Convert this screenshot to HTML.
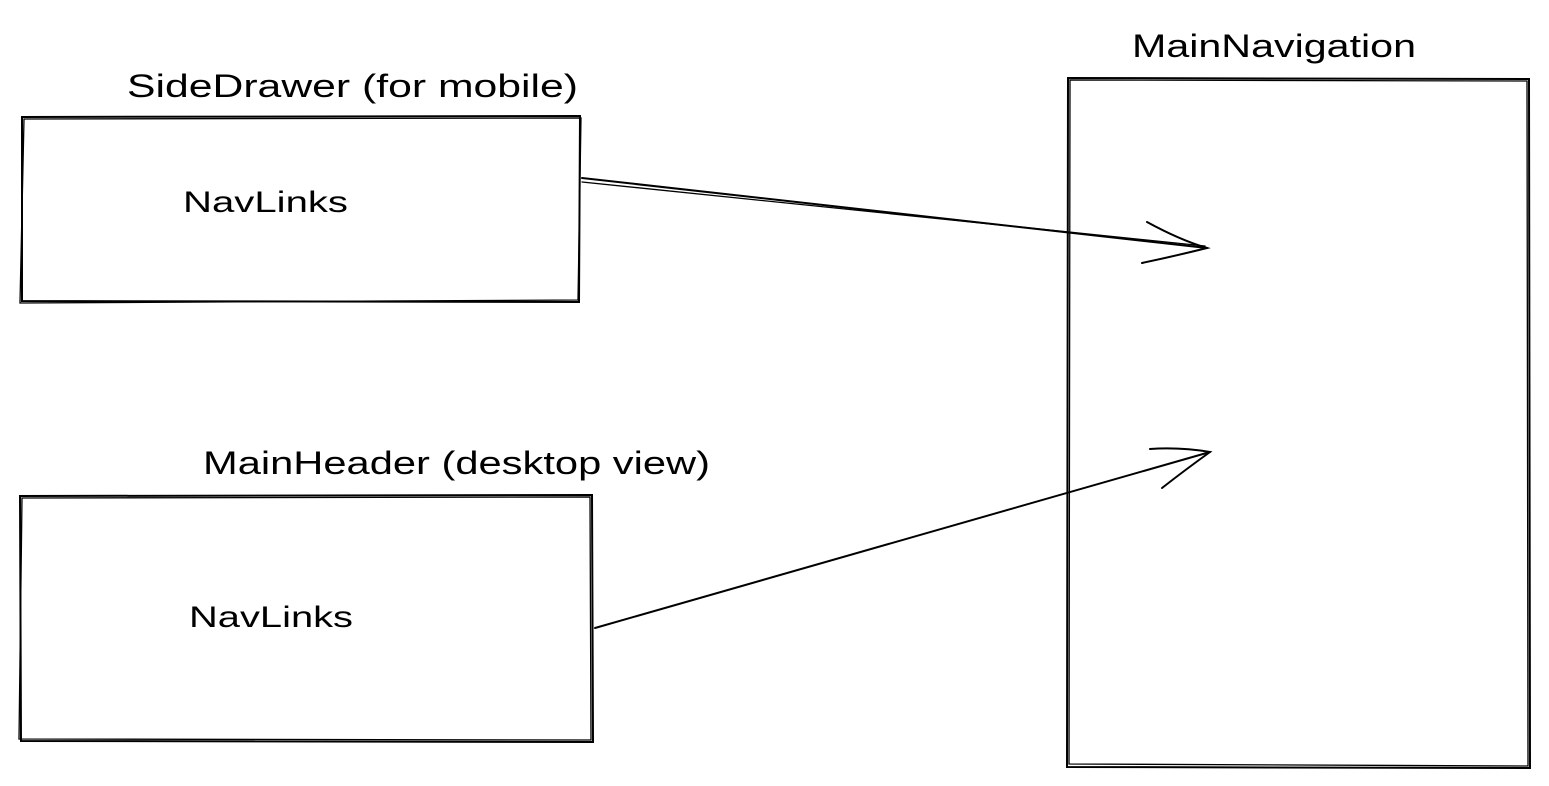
<!DOCTYPE html>
<html><head><meta charset="utf-8"><style>
html,body{margin:0;padding:0;background:#fff;}
svg{display:block}
text{font-family:"Liberation Sans",sans-serif;fill:#000;}
</style></head><body>
<svg width="1549" height="786" viewBox="0 0 1549 786" xmlns="http://www.w3.org/2000/svg">
<g fill="none" stroke="#000" stroke-width="2" stroke-linecap="round">
<path d="M22 117 L580 116 L579 302 L22 301 Z"/>
<path d="M24 119 L581 118 L578 300 L20 303 Z" stroke-width="1.3"/>
<path d="M20 496 L592 495 L593 742 L21 741 Z"/>
<path d="M22 498 L590 497 L591 740 L19 739 Z" stroke-width="1.3"/>
<path d="M1068 78 L1529 79 L1530 768 L1067 767 Z"/>
<path d="M1070 80 L1527 81 L1528 766 L1069 764 Z" stroke-width="1.3"/>
<path d="M582 178 L1207 248"/>
<path d="M582 182 L1205 246" stroke-width="1.3"/>
<path d="M1147 222 Q1180 240 1207 248 Q1175 256 1142 263"/>
<path d="M595 628 L1210 452"/>
<path d="M1150 449 Q1180 447 1210 452 Q1185 470 1162 488"/>
</g>
<text x="127" y="97" font-size="32" textLength="451" lengthAdjust="spacingAndGlyphs">SideDrawer (for mobile)</text>
<text x="183" y="212" font-size="30" textLength="165" lengthAdjust="spacingAndGlyphs">NavLinks</text>
<text x="203" y="474" font-size="32" textLength="507" lengthAdjust="spacingAndGlyphs">MainHeader (desktop view)</text>
<text x="189" y="627" font-size="30" textLength="164" lengthAdjust="spacingAndGlyphs">NavLinks</text>
<text x="1132" y="57" font-size="32" textLength="284" lengthAdjust="spacingAndGlyphs">MainNavigation</text>
</svg>
</body></html>
